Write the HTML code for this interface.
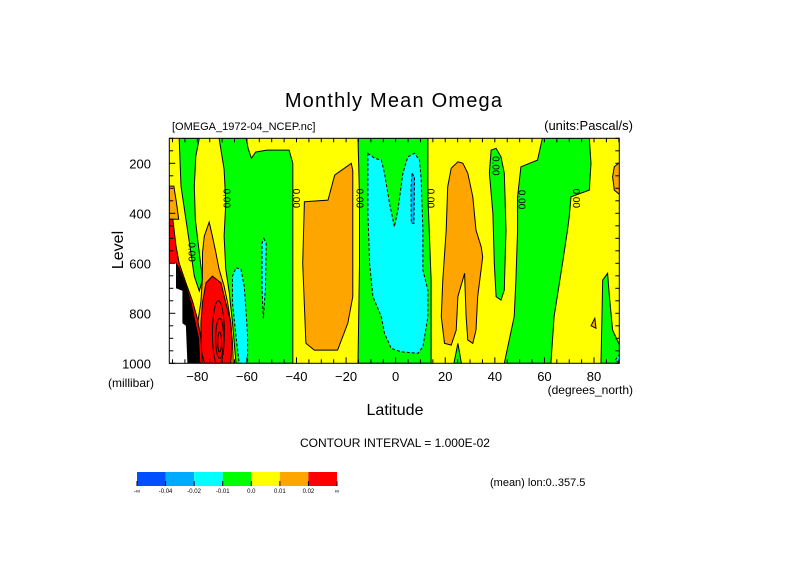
<!DOCTYPE html>
<html><head><meta charset="utf-8"><style>
body{margin:0;background:#fff;}
svg text{font-family:"Liberation Sans",sans-serif;fill:#000;}
</style></head><body>
<svg id="chart" width="789" height="558" viewBox="0 0 789 558" xmlns="http://www.w3.org/2000/svg">
<rect width="789" height="558" fill="#fff"/>
<text x="394" y="107" font-size="20" text-anchor="middle" letter-spacing="1.2">Monthly Mean Omega</text>
<text x="172" y="130" font-size="11">[OMEGA_1972-04_NCEP.nc]</text>
<text x="633" y="130" font-size="13" text-anchor="end">(units:Pascal/s)</text>
<g id="plot"></g>
<g id="axes"></g>
<text x="0" y="0" font-size="16" text-anchor="middle" transform="translate(123,250) rotate(-90)">Level</text>
<text x="108" y="387" font-size="12">(millibar)</text>
<text x="633" y="394" font-size="12" text-anchor="end">(degrees_north)</text>
<text x="395" y="415" font-size="16" text-anchor="middle">Latitude</text>
<text x="395" y="447" font-size="12" text-anchor="middle">CONTOUR INTERVAL = 1.000E-02</text>
<g id="cbar"></g>
<text x="490" y="486" font-size="11">(mean) lon:0..357.5</text>
</svg>
<script>
const NS="http://www.w3.org/2000/svg";
// axis ranges
const latTicks=[-80,-60,-40,-20,0,20,40,60,80];
const levTicks=[200,400,600,800,1000];
const cbarColors=["#0050ff","#00aaff","#00ffff","#00ff00","#ffff00","#ffa500","#ff0000"];
const cbarLabels=["-∞","-0.04","-0.02","-0.01","0.0","0.01","0.02","∞"];
// filled contour regions in [lat, level]
const greenLeft=[[-87.3,100],[-86.6,291],[-84.6,424],[-83.2,518],[-81.2,651],[-79.2,711],[-77.9,664],[-79.2,558],[-80.8,424],[-81.2,291],[-80.6,171],[-79.2,100]];
const greenBig=[[-71.2,100],[-60.3,100],[-59.5,140],[-58.2,180],[-56.5,155],[-52,147],[-43,147],[-41.5,200],[-41.5,1000],[-64.4,1000],[-65.8,838],[-67.1,718],[-68.5,624],[-69.2,491],[-68.5,358],[-69.2,224]];
const orangeTongue=[[-75.2,435],[-73.9,491],[-72.5,558],[-71.2,624],[-69.2,691],[-67.8,758],[-66.5,838],[-65.8,918],[-65.5,1000],[-80,1000],[-80,850],[-78.5,750],[-77.9,651],[-77.9,558],[-77.2,491]];
const redTongue=[[-73.9,651],[-70.5,678],[-68.5,758],[-66.5,838],[-66,918],[-66.5,1000],[-77.2,1000],[-78.5,944],[-78.5,838],[-77.9,758],[-76.5,678]];
const cyanLeft=[[-64.4,618],[-62.4,624],[-61.1,691],[-60.4,784],[-59.7,891],[-59.7,1000],[-63.1,1000],[-64.4,891],[-65.8,758],[-65.8,651]];
const cyanSliver=[[-53.2,500],[-52.2,520],[-52.5,700],[-53.4,820],[-53.9,700],[-53.9,520]];
const orangeEdge=[[-91.3,291],[-89.5,291],[-88.4,358],[-87.5,424],[-91.3,424]];
const redEdge=[[-91.3,424],[-89.9,424],[-88.6,530],[-87.3,600],[-84.6,678],[-82,750],[-80,820],[-78.5,900],[-78,1000],[-91.3,1000]];
const blackEdge=[[-88.6,600],[-87.3,620],[-84.6,690],[-82.5,760],[-81,830],[-79.5,900],[-79,1000],[-84,1000],[-84.6,850],[-86,840],[-86,710],[-88.6,700]];
const whiteEdge=[[-91.3,600],[-88.6,600],[-88.6,700],[-86,710],[-86,840],[-84.6,850],[-84,1000],[-91.3,1000]];
const orangeS=[[-36.8,354],[-27.3,347],[-24.6,247],[-17.9,200],[-17.3,230],[-17.3,733],[-19.3,840],[-23.4,947],[-32.8,947],[-36.2,920],[-37.5,600]];
const greenEq=[[-15.2,100],[13,100],[13,334],[13.7,507],[14.3,667],[14.3,1000],[-15.2,1000],[-14.6,600],[-14.6,334]];
const cyanEq=[[-11.2,160],[-8.5,180],[-5.8,187],[-4.5,240],[-2.5,360],[-0.5,454],[0.9,387],[2.9,240],[4.9,174],[7.6,160],[9.6,187],[10.3,267],[11,467],[11,627],[13,707],[13,813],[11,934],[9,960],[2.2,954],[-1.8,940],[-4.5,880],[-5.8,813],[-9.2,733],[-10.5,600],[-11.2,400]];
const blueEq=[[6.6,240],[7.6,254],[7.4,440],[6.3,440],[6.2,300]];
const orangeN=[[25.1,194],[22.4,220],[21,294],[20.4,467],[19,667],[18.4,813],[19.7,920],[22.4,927],[24.4,867],[25.1,733],[27.8,640],[28.4,813],[29.1,907],[31.1,920],[32.4,867],[33.1,733],[35.1,574],[34.5,534],[32.4,467],[31.1,334],[29.1,240],[27.1,200]];
const greenSpike=[[23.5,1000],[25.1,920],[26.5,1000]];
const green40=[[38.5,147],[40.5,140],[42.5,174],[43.8,240],[44.5,467],[44.1,600],[43.8,707],[42.5,747],[40.5,733],[39.8,600],[39.2,400],[37.8,240]];
const greenN=[[59.2,100],[78.1,100],[78.8,200],[78.1,307],[70.7,334],[70,414],[69.3,467],[67.3,600],[63.9,813],[62.6,1000],[43.8,1000],[47.8,813],[48.5,667],[49.2,467],[49.2,334],[50.5,214],[57.2,187]];
const greenNE=[[82.8,1000],[83.5,667],[85.5,640],[86.2,733],[87.5,867],[90.6,934],[90.6,1000]];
const orangeNE=[[90.6,194],[88.2,214],[87.5,254],[88.2,307],[90.6,327]];
const orangeTri=[[78.8,850],[80.3,820],[80.8,860]];
const cyanNE=[[88.6,987],[90.6,960],[90.6,1000]];
const regions=[
 ["green-band-80s",greenLeft,"#00ff00",0],["green-band-60s",greenBig,"#00ff00",0],
 ["orange-tongue-75s",orangeTongue,"#ffa500",0],["red-core-70s",redTongue,"#ff0000",0],
 ["cyan-region-62s",cyanLeft,"#00ffff",1],["cyan-sliver-53s",cyanSliver,"#00ffff",1],
 ["orange-edge-90s",orangeEdge,"#ffa500",0],["red-edge-90s",redEdge,"#ff0000",0],
 ["dense-contours-85s",blackEdge,"#000",0],["missing-data-region",whiteEdge,"#fff",2],
 ["orange-region-30s",orangeS,"#ffa500",0],["green-region-equator",greenEq,"#00ff00",0],
 ["cyan-region-equator",cyanEq,"#00ffff",1],["blue-sliver-7n",blueEq,"#00aaff",1],
 ["orange-region-25n",orangeN,"#ffa500",0],["green-spike-25n",greenSpike,"#00ff00",0],
 ["green-tongue-40n",green40,"#00ff00",0],["green-region-60n",greenN,"#00ff00",0],
 ["green-region-85n",greenNE,"#00ff00",0],["orange-edge-90n",orangeNE,"#ffa500",0],
 ["orange-spot-80n",orangeTri,"#ffa500",0],["cyan-corner-90n",cyanNE,"#00ffff",1]
];
const zeroLabels=[[-69.5,340],[-41.5,340],[-15.8,340],[12.8,340],[39,210],[49.5,345],[71.5,340],[-83.5,555]];
const redRings=[[-71,915,0.8,40],[-71,900,1.6,80],[-71.5,880,2.4,130]];

const X0=169.3,X1=619.3,Y0=138.3,Y1=363.3,LATMIN=-91.3,LATMAX=90.2,LEVMIN=100,LEVMAX=1000;
function xs(l){return X0+(l-LATMIN)/(LATMAX-LATMIN)*(X1-X0);}
function ys(p){return Y0+(p-LEVMIN)/(LEVMAX-LEVMIN)*(Y1-Y0);}
const plot=document.getElementById('plot');
const clip=document.createElementNS(NS,'clipPath');clip.setAttribute('id','pc');
const cr=document.createElementNS(NS,'rect');cr.setAttribute('x',X0);cr.setAttribute('y',Y0);cr.setAttribute('width',X1-X0);cr.setAttribute('height',Y1-Y0);
clip.appendChild(cr);plot.appendChild(clip);plot.setAttribute('clip-path','url(#pc)');
const bg=document.createElementNS(NS,'rect');


bg.setAttribute('x',X0);bg.setAttribute('y',Y0);bg.setAttribute('width',X1-X0);bg.setAttribute('height',Y1-Y0);bg.setAttribute('fill','#ffff00');
plot.appendChild(bg);
regions.forEach(r=>{
 const p=document.createElementNS(NS,'polygon');
 
 
 p.setAttribute('points',r[1].map(d=>xs(d[0]).toFixed(1)+','+ys(d[1]).toFixed(1)).join(' '));
 p.setAttribute('fill',r[2]);
 if(r[3]!==2){p.setAttribute('stroke','#000');p.setAttribute('stroke-width','1');}
 if(r[3]===1)p.setAttribute('stroke-dasharray','3,2');
 plot.appendChild(p);
});
redRings.forEach(c=>{
 const e=document.createElementNS(NS,'ellipse');
 
 
 e.setAttribute('cx',xs(c[0]));e.setAttribute('cy',ys(c[1]));
 e.setAttribute('rx',xs(c[0]+c[2])-xs(c[0]));e.setAttribute('ry',ys(c[1]+c[3])-ys(c[1]));
 e.setAttribute('fill','none');e.setAttribute('stroke','#000');
 plot.appendChild(e);
});
zeroLabels.forEach(z=>{
 const t=document.createElementNS(NS,'text');
 
 
 t.setAttribute('font-size','10');t.setAttribute('text-anchor','middle');
 t.setAttribute('transform','translate('+xs(z[0])+','+ys(z[1])+') rotate(90)');
 t.textContent='0.00';plot.appendChild(t);
});
const axes=document.getElementById('axes');
const frame=document.createElementNS(NS,'rect');


frame.setAttribute('x',X0);frame.setAttribute('y',Y0);frame.setAttribute('width',X1-X0);frame.setAttribute('height',Y1-Y0);frame.setAttribute('fill','none');frame.setAttribute('stroke','#000');
axes.appendChild(frame);
function line(x1,y1,x2,y2,n){const l=document.createElementNS(NS,'line');
 
 
 l.setAttribute('x1',x1);l.setAttribute('y1',y1);l.setAttribute('x2',x2);l.setAttribute('y2',y2);l.setAttribute('stroke','#000');axes.appendChild(l);}
for(let l=-90;l<=90;l+=5){const x=xs(l);const len=(l%20===0)?6:4;line(x,Y1,x,Y1-len,'x-tick');line(x,Y0,x,Y0+4,'x-tick-top');}
for(let p=100;p<=1000;p+=50){const y=ys(p);const len=(p%200===0)?6:4;line(X0,y,X0+len,y,'y-tick');line(X1,y,X1-4,y,'y-tick-right');}
latTicks.forEach(l=>{const t=document.createElementNS(NS,'text');
 
 
 t.setAttribute('x',xs(l));t.setAttribute('y',381);t.setAttribute('font-size','13');t.setAttribute('text-anchor','middle');
 t.textContent=l<0?'−'+(-l):l;axes.appendChild(t);});
levTicks.forEach(p=>{const t=document.createElementNS(NS,'text');
 
 
 t.setAttribute('x',151);t.setAttribute('y',ys(p)+5);t.setAttribute('font-size','13');t.setAttribute('text-anchor','end');
 t.textContent=p;axes.appendChild(t);});
const cb=document.getElementById('cbar');const cw=200/7;
cbarColors.forEach((c,i)=>{const r=document.createElementNS(NS,'rect');
 
 
 r.setAttribute('x',137+i*cw);r.setAttribute('y',472);r.setAttribute('width',cw);r.setAttribute('height',14);r.setAttribute('fill',c);cb.appendChild(r);});
cbarLabels.forEach((s,i)=>{const t=document.createElementNS(NS,'text');
 
 
 t.setAttribute('x',137+i*cw);t.setAttribute('y',493);t.setAttribute('font-size','6');t.setAttribute('text-anchor','middle');
 t.textContent=s;cb.appendChild(t);
 const l=document.createElementNS(NS,'line');
 
 
 l.setAttribute('x1',137+i*cw);l.setAttribute('x2',137+i*cw);l.setAttribute('y1',481);l.setAttribute('y2',486);l.setAttribute('stroke','#000');cb.appendChild(l);});
</script>
</body></html>
